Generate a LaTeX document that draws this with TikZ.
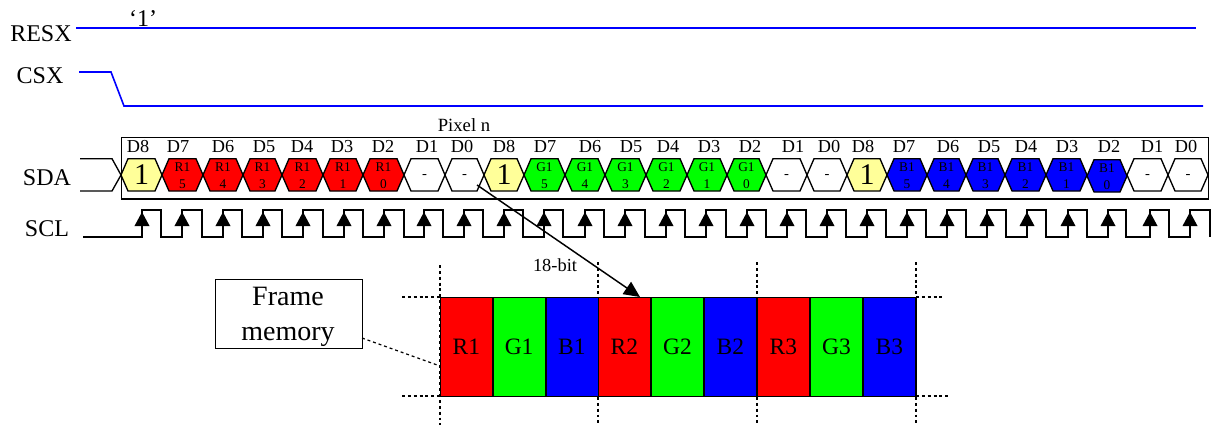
\documentclass[tikz,border=0pt]{standalone}
\usepackage{fontspec}
\setmainfont{Liberation Serif}
\usetikzlibrary{arrows.meta}
\definecolor{hexyellow}{RGB}{255,255,153}
\newcommand{\fsz}[1]{\fontsize{#1}{#1}\selectfont}
\tikzset{
  x=0.75pt,y=-0.75pt,
  lbl/.style={inner sep=0pt,anchor=base,text=black},
  wave/.style={draw=black,line width=1pt,line join=miter},
  sig/.style={draw=blue,line width=1.2pt},
  hexbox/.style={draw=black,line width=1pt,line join=miter},
  cell/.style={draw=black,line width=1.1pt,minimum width=39.2pt,minimum height=74pt,inner sep=0pt,anchor=north west},
  guide/.style={draw=black,line width=0.9pt,dash pattern=on 2.2pt off 2.2pt},
  clk/.style={draw=black,line width=1pt,-{Triangle[length=10.5pt,width=11pt]}},
}
\begin{document}
\begin{tikzpicture}
\useasboundingbox (0,0) rectangle (1213,425);
% signal names
\node[lbl,font=\fsz{18}] (resx) at (41,41.7) {RESX};
\node[lbl,font=\fsz{18}] (csx) at (40,83) {CSX};
\node[lbl,font=\fsz{18}] (sda) at (47,185) {SDA};
\node[lbl,font=\fsz{18}] (scl) at (47,236) {SCL};
\node[lbl,font=\fsz{18}] (one) at (143,26) {‘1’};
\node[lbl,font=\fsz{14}] (pixeln) at (464,131.7) {Pixel n};
% blue lines
\coordinate (ra) at (76,28); \coordinate (rb) at (1196,28);
\draw[sig] (ra) -- (rb);
\coordinate (ca) at (79,72); \coordinate (cb) at (111,72);
\coordinate (cc) at (124,106); \coordinate (cd) at (1203,106);
\draw[sig] (ca) -- (cb) -- (cc) -- (cd);
% SDA frame
\node[draw=black,line width=1.1pt,inner sep=0pt,minimum width=815.25pt,minimum height=46.1pt,anchor=north west] (frame) at (121,136.7) {};
\coordinate (sa) at (80,158.7); \coordinate (sb) at (112,158.7); \coordinate (sc) at (121,175);
\coordinate (sd) at (80,191); \coordinate (se) at (112,191);
\draw[wave] (sa) -- (sb) -- (sc) -- (se) -- (sd);
% hexagons: number/left/right/fill/kind/first line/second line
\foreach \n/\a/\b/\f/\k/\s/\t in {
 1/121/162/hexyellow/1/1/,2/162/203/red/3/R1/5,3/203/243/red/3/R1/4,4/243/282/red/3/R1/3,5/282/323/red/3/R1/2,6/323/363/red/3/R1/1,7/363/404/red/3/R1/0,
 8/404/445/white/2/-/,9/445/484/white/2/-/,
 10/484/524/hexyellow/1/1/,11/524/565/green/3/G1/5,12/565/605/green/3/G1/4,13/605/646/green/3/G1/3,14/646/687/green/3/G1/2,15/687/727/green/3/G1/1,16/727/766/green/3/G1/0,
 17/766/807/white/2/-/,18/807/847/white/2/-/,
 19/847/887/hexyellow/1/1/,20/887/927/blue/3/B1/5,21/927/966/blue/3/B1/4,22/966/1005/blue/3/B1/3,23/1005/1046/blue/3/B1/2,24/1046/1087/blue/3/B1/1,25/1087/1127/blue/3/B1/0,
 26/1127/1168/white/2/-/,27/1168/1208/white/2/-/}{
  \pgfmathsetmacro{\mid}{(\a+\b)/2}
  \pgfmathsetmacro{\yo}{\n==25 ? -1 : 0}
  \begin{scope}[yshift=\yo*0.75pt]
  \draw[hexbox,fill=\f] (\a,175) -- (\a+7,158.7) -- (\b-7,158.7) -- (\b,175) -- (\b-7,191) -- (\a+7,191) -- cycle;
  \ifnum\k=1
    \node[lbl,font=\fsz{22.5}] (h\n) at (\mid,184.7) {\s};
  \else\ifnum\k=2
    \node[lbl,font=\fsz{11}] (h\n) at (\mid,178.5) {\s};
  \else
    \node[lbl,font=\fsz{10}] (h\n) at (\mid,171) {\s};
    \node[lbl,font=\fsz{10}] (hb\n) at (\mid,188) {\t};
  \fi\fi
  \end{scope}
}
% bit names
\foreach \n/\x/\s in {1/138/D8,2/178/D7,3/223/D6,4/264/D5,5/302/D4,6/342/D3,7/383/D2,8/427/D1,9/462/D0,
 10/504/D8,11/545/D7,12/590/D6,13/631/D5,14/668/D4,15/709/D3,16/750/D2,17/793/D1,18/829/D0,
 19/863/D8,20/904/D7,21/948/D6,22/989/D5,23/1026/D4,24/1067/D3,25/1109/D2,26/1152/D1,27/1186/D0}{
  \node[lbl,font=\fsz{13.7}] (d\n) at (\x,152.7) {\s};
}
% SCL
\coordinate (cka) at (83,237);
\draw[wave] (cka)
 \foreach \r/\f in {142/161,182/202,223/242,263/282,303/323,344/363,384/404,424/443,464/483,504/523,544/563,585/604,625/645,666/685,706/726,747/766,787/806,827/846,867/886,907/926,947/966,987/1006,1027/1046,1068/1087,1108/1126,1150/1169,1190/1210}{
   -- (\r,237) -- (\r,210) -- (\f,210) -- (\f,237)
 };
\foreach \r in {142,182,223,263,303,344,384,424,464,504,544,585,625,666,706,747,787,827,867,907,947,987,1027,1068,1108,1150,1190}{
  \coordinate (ckb\r) at (\r,225); \coordinate (ckt\r) at (\r,212);
  \draw[clk] (ckb\r) -- (ckt\r);
}
% memory guides
\coordinate (vt1) at (440,265); \coordinate (vb1) at (440,425);
\coordinate (vt2) at (598,262); \coordinate (vb2) at (598,425);
\coordinate (vt3) at (757,262); \coordinate (vb3) at (757,425);
\coordinate (vt4) at (916,262); \coordinate (vb4) at (916,425);
\foreach \i in {1,2,3,4}{\draw[guide] (vt\i) -- (vb\i);}
\coordinate (hl1) at (402,297); \coordinate (hl2) at (440,297);
\coordinate (hl3) at (402,396); \coordinate (hl4) at (440,396);
\coordinate (hr1) at (916,297); \coordinate (hr2) at (943,297);
\coordinate (hr3) at (916,396); \coordinate (hr4) at (948,396);
\draw[guide] (hl1) -- (hl2);
\draw[guide] (hl3) -- (hl4);
\draw[guide] (hr1) -- (hr2);
\draw[guide] (hr3) -- (hr4);
% memory cells
\foreach \n/\x/\f/\s in {cA/440/red/R1,cB/492.7/green/G1,cC/545.4/blue/B1,cD/598/red/R2,cE/651/green/G2,cF/704/blue/B2,cG/757/red/R3,cH/810/green/G3,cI/863/blue/B3}{
  \node[cell,fill=\f] (\n) at (\x,297) {};
  \node[lbl,font=\fsz{17.6}] (t\n) at (\x+26.4,354) {\s};
}
% frame memory
\node[draw=black,line width=1.1pt,inner sep=0pt,minimum width=110.25pt,minimum height=51.75pt,anchor=north west] (fm) at (215,279) {};
\node[lbl,font=\fsz{21}] (fm1) at (288,305) {Frame};
\node[lbl,font=\fsz{21}] (fm2) at (288,340) {memory};
\coordinate (fmc) at (362,338); \coordinate (fmd) at (440,366);
\draw[guide] (fmc) -- (fmd);
% arrow
\node[lbl,font=\fsz{13.8}] (bits) at (555,271.7) {18-bit};
\coordinate (aa) at (477,185); \coordinate (ab) at (640,297);
\draw[draw=black,line width=1.1pt,-{Triangle[length=12pt,width=11pt]}] (aa) -- (ab);
\end{tikzpicture}
\end{document}
